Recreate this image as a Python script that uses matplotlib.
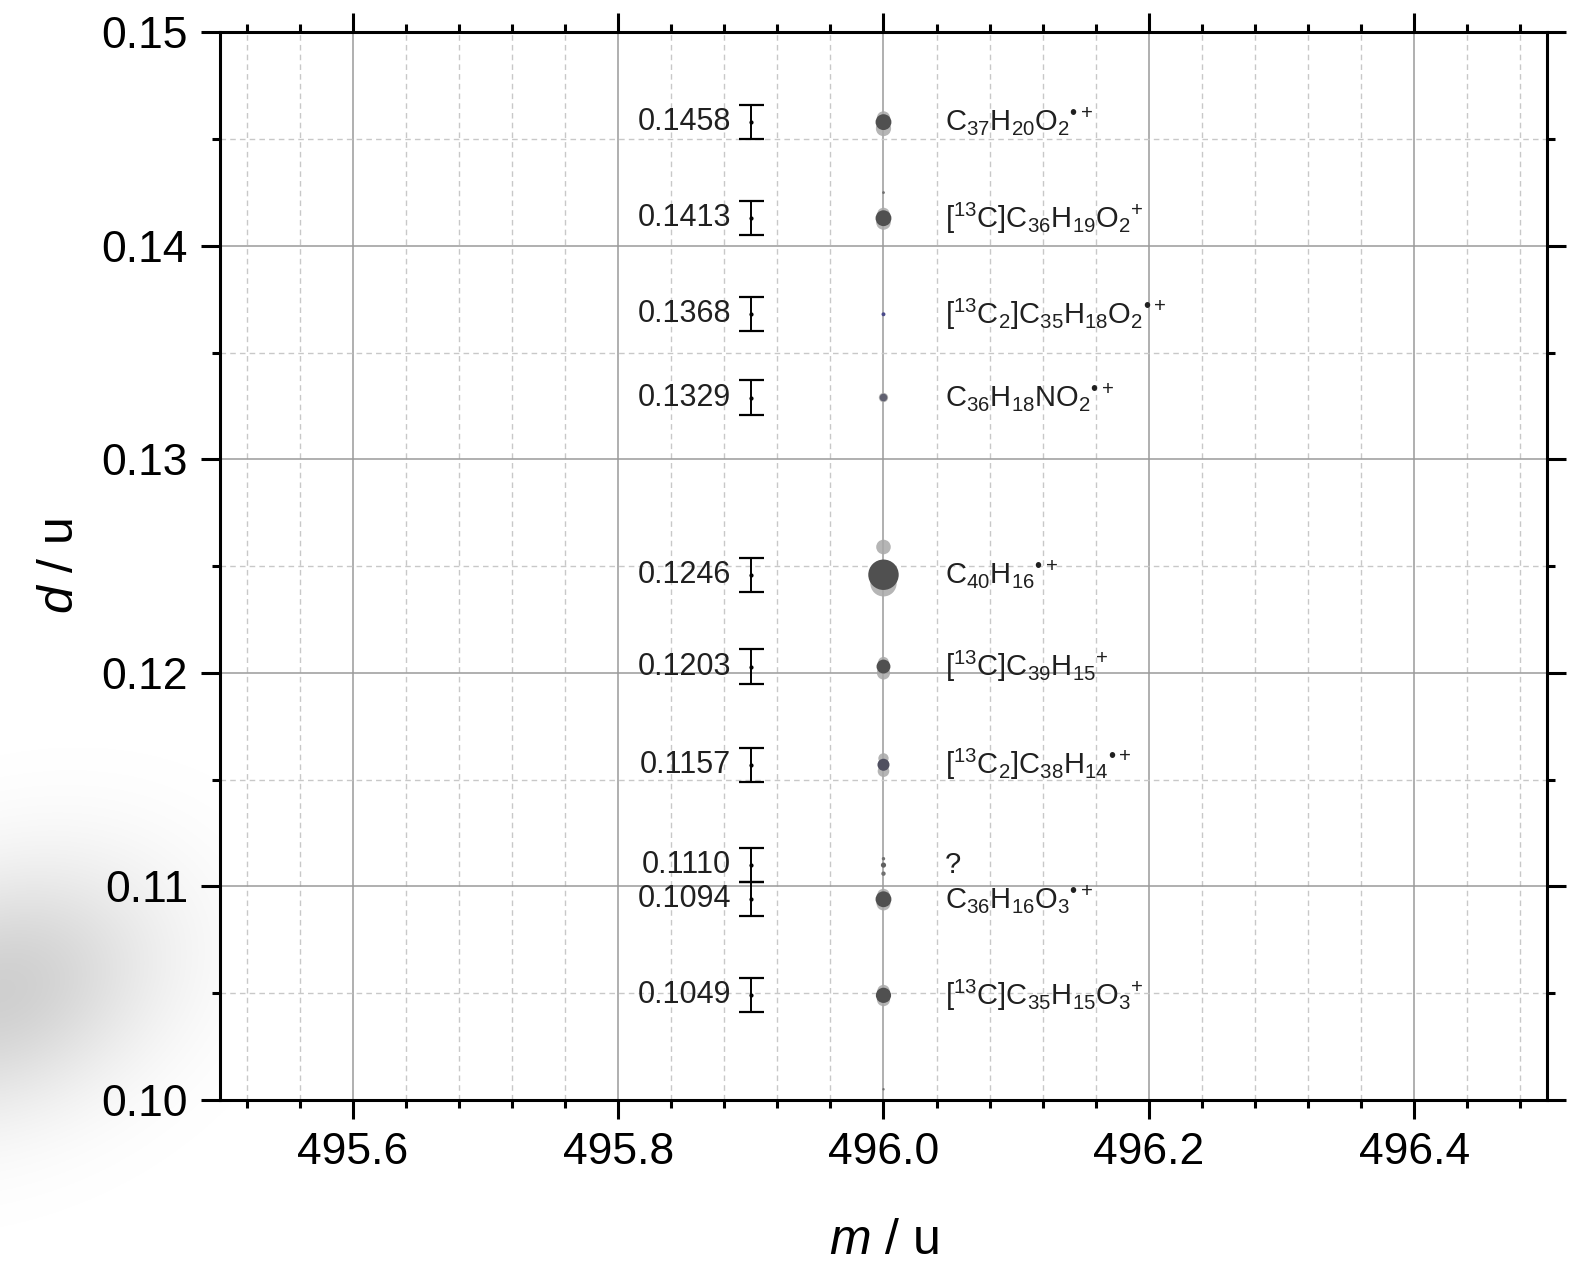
import numpy as np
import matplotlib
matplotlib.use("Agg")
import matplotlib.pyplot as plt
from matplotlib.ticker import MultipleLocator, FormatStrFormatter

plt.rcParams['font.family'] = ['Liberation Sans', 'DejaVu Sans']
plt.rcParams['mathtext.fontset'] = 'custom'
plt.rcParams['mathtext.rm'] = 'Liberation Sans'
plt.rcParams['mathtext.it'] = 'Liberation Sans:italic'
plt.rcParams['mathtext.bf'] = 'Liberation Sans:bold'

# peak positions (mass defect d) and their assignments at nominal mass 496
peak_mass = 496.0
peak_d = [0.1458, 0.1413, 0.1368, 0.1329, 0.1246, 0.1203, 0.1157, 0.1110, 0.1094, 0.1049]
peak_size = [130, 130, 8, 30, 480, 100, 75, 14, 130, 120]
peak_color = ['#505050', '#505050', '#4a4a8a', '#606070', '#505050',
              '#505050', '#505060', '#606060', '#505050', '#505050']
rad = '$^{\u2022+}$'
formulas = [
    r'C$_{37}$H$_{20}$O$_2$' + rad,
    r'[$^{13}$C]C$_{36}$H$_{19}$O$_2$$^{+}$',
    r'[$^{13}$C$_2$]C$_{35}$H$_{18}$O$_2$' + rad,
    r'C$_{36}$H$_{18}$NO$_2$' + rad,
    r'C$_{40}$H$_{16}$' + rad,
    r'[$^{13}$C]C$_{39}$H$_{15}$$^{+}$',
    r'[$^{13}$C$_2$]C$_{38}$H$_{14}$' + rad,
    '?',
    r'C$_{36}$H$_{16}$O$_3$' + rad,
    r'[$^{13}$C]C$_{35}$H$_{15}$O$_3$$^{+}$',
]

# faint shoulders around each peak
shoulder_d = [0.1455, 0.1460, 0.1411, 0.1415, 0.1329, 0.1259, 0.1242,
              0.1200, 0.1205, 0.1154, 0.1160, 0.1092, 0.1096, 0.1047, 0.1051]
shoulder_size = [120, 90, 110, 80, 45, 110, 360, 90, 60, 70, 55, 100, 80, 90, 80]

# tiny isolated counts along the line
trace_d = [0.1425, 0.1113, 0.1106, 0.1005]
trace_size = [4, 6, 10, 3]

# error bar drawn at a reference mass
err_mass = 495.9
err_d = 0.0008

fig = plt.figure(figsize=(15.91, 12.63), dpi=100)

# soft grey smudge in the lower left corner
sm = fig.add_axes([0, 0, 0.2, 0.5], zorder=0)
yy, xx = np.mgrid[0:1:400j, 0:1:250j]
dx = xx / 0.48
dy = (yy - 0.43) / 0.19
alpha = 0.19 * np.exp(-(dx ** 2 + dy ** 2 - 0.5 * dx * dy))
img = np.zeros((400, 250, 4))
img[..., 3] = alpha
sm.imshow(img, origin='lower', extent=[0, 1, 0, 1], aspect='auto')
sm.axis('off')

ax = fig.add_axes([0.1383, 0.1291, 0.8340, 0.8452], zorder=1)

ax.set_xlim(495.5, 496.5)
ax.set_ylim(0.10, 0.15)
ax.xaxis.set_major_locator(MultipleLocator(0.2))
ax.xaxis.set_minor_locator(MultipleLocator(0.04))
ax.yaxis.set_major_locator(MultipleLocator(0.01))
ax.yaxis.set_minor_locator(MultipleLocator(0.005))
ax.xaxis.set_major_formatter(FormatStrFormatter('%.1f'))
ax.yaxis.set_major_formatter(FormatStrFormatter('%.2f'))

ax.grid(which='major', color='#9a9a9a', lw=1.1, ls='-', zorder=0)
ax.grid(which='minor', color='#c8c8c8', lw=1.0, ls=(0, (4, 3)), zorder=0)
ax.set_axisbelow(True)

for s in ax.spines.values():
    s.set_linewidth(2.2)
ax.tick_params(which='both', direction='out', top=True, right=True,
               labeltop=False, labelright=False, width=2.2)
ax.tick_params(which='major', length=14, labelsize=32, pad=9)
ax.tick_params(which='minor', length=6)

# spectrum points
ax.scatter([peak_mass] * len(shoulder_d), shoulder_d, s=shoulder_size,
           color='#a8a8a8', alpha=0.85, lw=0, zorder=3)
ax.scatter([peak_mass] * len(peak_d), peak_d, s=peak_size,
           color=peak_color, lw=0, zorder=4)
ax.scatter([peak_mass] * len(trace_d), trace_d, s=trace_size,
           color='#707070', lw=0, zorder=4)

# uncertainty bars with the peak values
ax.errorbar([err_mass] * len(peak_d), peak_d, yerr=err_d, fmt='o', ms=2,
            color='black', ecolor='black', elinewidth=1.4, capsize=9,
            capthick=1.6, zorder=5)

for d, f in zip(peak_d, formulas):
    ax.annotate(f'{d:.4f}', (err_mass, d), xytext=(-14, 0),
                textcoords='offset points', ha='right', va='center',
                fontsize=22, color='#202020')
    ax.annotate(f, (peak_mass, d), xytext=(44, 0),
                textcoords='offset points', ha='left', va='center',
                fontsize=21, color='#202020')

ax.set_xlabel(r'$m$ / u', fontsize=36)
ax.set_ylabel(r'$d$ / u', fontsize=36)
ax.xaxis.set_label_coords(0.5, -0.111)
ax.yaxis.set_label_coords(-0.103, 0.5)

fig.savefig('out.png', dpi=100)
